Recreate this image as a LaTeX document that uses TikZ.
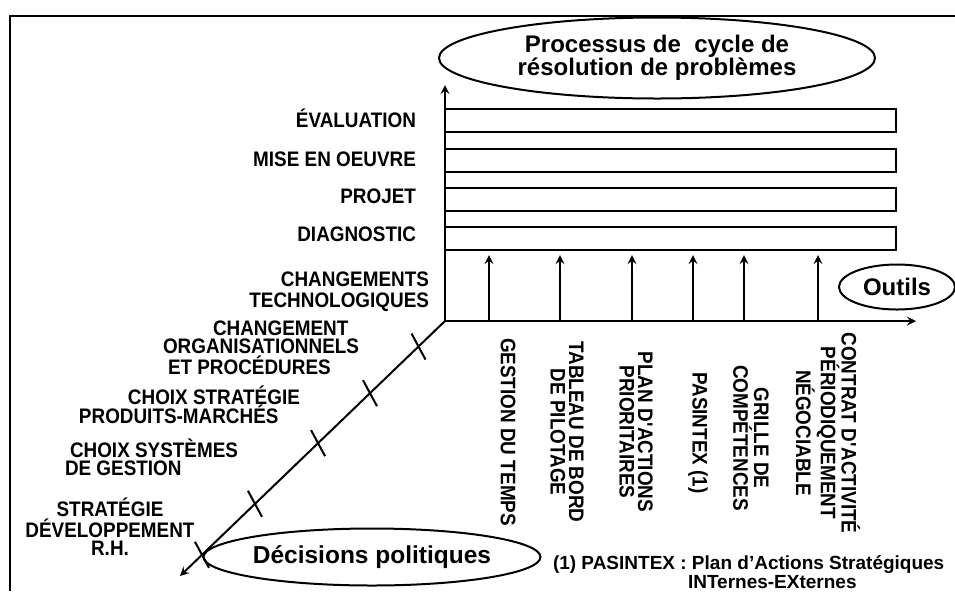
\documentclass[tikz,border=0pt]{standalone}
\usepackage{fontspec}
\setmainfont{Liberation Sans}
\newfontfamily\lblfont{Liberation Sans}[FakeStretch=0.9]
\usetikzlibrary{shapes.geometric,calc}

\tikzset{
  lbl/.style={font=\lblfont\bfseries\fontsize{10.5}{#1}\selectfont,inner sep=0pt},
  lbl/.default=9,
  vlbl/.style={lbl=9.25,rotate=-90,align=center},
  stage/.style={draw,minimum width=225.5pt,minimum height=11.5pt,inner sep=0pt},
  bulle/.style={draw,ellipse,inner sep=0pt,font=\bfseries\fontsize{#1}{11.5}\selectfont},
  renvoi/.style={font=\bfseries\fontsize{9.5}{9.5}\selectfont,inner sep=0pt},
}

\begin{document}
\begin{tikzpicture}[x=0.5pt,y=-0.5pt,line width=1pt,>=stealth]
\useasboundingbox (0,0) rectangle (955,591);

% frame (only top and left edges show)
\draw[line width=1.3pt] (955,16) -- (10,16) -- (10,591);

% --- three axes ---
\coordinate (O) at (445,321);
\coordinate (Ytop) at (445,85);
\coordinate (Xend) at (916,321);
\coordinate (Dend) at (180,576);
\draw[->] (O) -- (Ytop);
\draw[->] (O) -- (Xend);
\draw[->] (O) -- (Dend);

% ticks on the decisions axis
\foreach \t in {0.1,0.283,0.479,0.717,0.917}
  \draw ($(O)!\t!(Dend)$) ++(-7,-13) -- ++(14,26);

% --- stages of the cycle ---
\foreach \y [count=\i] in {120.5,160,199.5,238.5}
  \node[stage] (s\i) at (670.5,\y) {};

\node[lbl,anchor=base east] (eval) at (417,127) {ÉVALUATION};
\node[lbl,anchor=base east] (mise) at (417,166) {MISE EN OEUVRE};
\node[lbl,anchor=base east] (proj) at (417,203) {PROJET};
\node[lbl,anchor=base east] (diag) at (417,241) {DIAGNOSTIC};

% --- tools ---
\foreach \x in {489,560,632,693,744,818}
  \draw[->] (\x,321) -- (\x,255);

\node[vlbl] (gest) at (508,432) {GESTION DU TEMPS};
\node[vlbl] (tabl) at (567,432) {TABLEAU DE BORD\\DE PILOTAGE};
\node[vlbl] (plan) at (636,432) {PLAN D\textquotesingle ACTIONS\\PRIORITAIRES};
\node[vlbl] (pasi) at (698,433) {PASINTEX (1)};
\node[vlbl] (gril) at (751,438) {GRILLE DE\\COMPÉTENCES};
\node[vlbl] (cont) at (828,433) {CONTRAT D\textquotesingle ACTIVITÉ\\PÉRIODIQUEMENT\\NÉGOCIABLE};

% --- policy decisions ---
\node[lbl=10.5,align=right,anchor=east] (chtec) at (430,292) {CHANGEMENTS\\TECHNOLOGIQUES};
\node[lbl=9,align=left,anchor=west] (chorg) at (162,348) {\hspace*{25pt}CHANGEMENT\\ORGANISATIONNELS\\\hspace*{2.5pt}ET PROCÉDURES};
\node[lbl=9.5,align=left,anchor=west] (chstr) at (78,405) {\hspace*{24.5pt}CHOIX STRATÉGIE\\PRODUITS-MARCHÉS};
\node[lbl=9,align=left,anchor=west] (chsys) at (64,457) {\hspace*{2.5pt}CHOIX SYSTÈMES\\DE GESTION};
\node[lbl=9,align=center] (strat) at (110,527) {STRATÉGIE\\DÉVELOPPEMENT\\R.H.};

% --- ellipses ---
\node[bulle=12,minimum width=218pt,minimum height=40.5pt,align=center] (proc) at (657,58) {Processus de \ cycle de\\résolution de problèmes};
\node[bulle=12,minimum width=58pt,minimum height=22.5pt] (outi) at (897,287) {Outils};
\node[bulle=12.25,minimum width=140pt,minimum height=28.5pt] (deci) at (372,557) {Décisions politiques};

% footnote
\node[renvoi,align=left,anchor=west] (note) at (552,572) {(1) PASINTEX : Plan d’Actions Stratégiques\\\hspace*{67.5pt}INTernes-EXternes};

\end{tikzpicture}
\end{document}
